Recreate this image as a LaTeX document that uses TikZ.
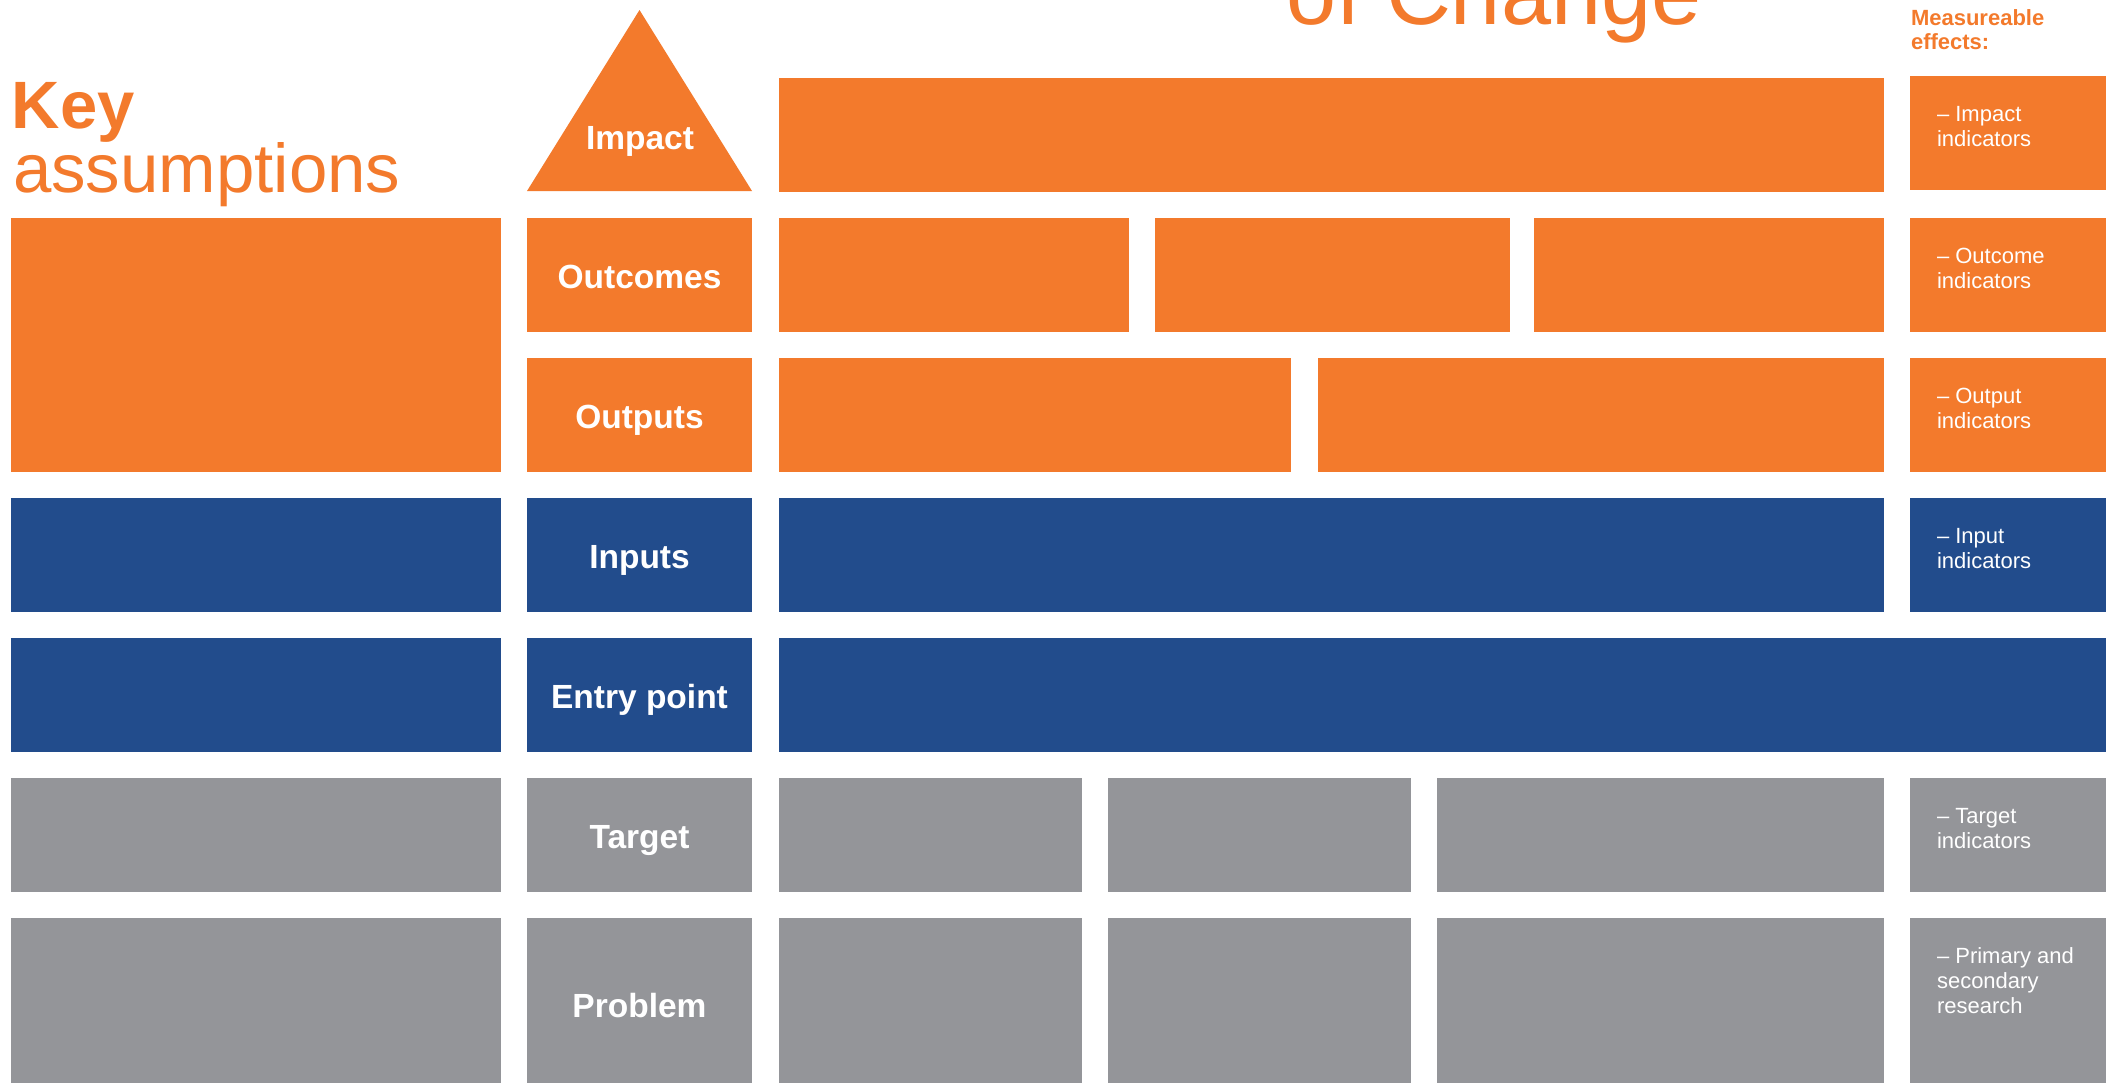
\documentclass[tikz,border=0pt]{standalone}
\usepackage{fontspec}
\setmainfont{Liberation Sans}
\usetikzlibrary{positioning}
\definecolor{tocorange}{HTML}{F37A2C}
\definecolor{tocblue}{HTML}{224C8C}
\definecolor{tocgray}{HTML}{949599}

\begin{document}
\begin{tikzpicture}[x=1pt,y=-1pt,node distance=26pt]
\tikzstyle{cell}=[rectangle,inner sep=0pt,outer sep=0pt,minimum height=114pt]
\tikzstyle{level}=[cell,minimum width=225pt,text=white,font=\fontsize{33.5}{40}\selectfont\bfseries,text height=27pt,text depth=0pt]
\tikzstyle{note}=[inner sep=0pt,outer sep=0pt,align=left,text=white,font=\fontsize{22}{25}\selectfont]
\tikzstyle{heading}=[inner sep=0pt,outer sep=0pt,text=tocorange]

\clip (0,0) rectangle (2114,1082);
\useasboundingbox (0,0) rectangle (2114,1082);

\node[heading,anchor=base west,font=\fontsize{90}{100}\selectfont] (title) at (1286,24) {of Change};
\node[heading,anchor=base west,font=\fontsize{67}{70}\selectfont\bfseries] (key) at (12,128) {Key};
\node[heading,anchor=base west,font=\fontsize{69}{72}\selectfont] (assum) at (13,192) {assumptions};
\node[heading,anchor=north west,align=left,font=\fontsize{22}{24}\selectfont\bfseries] (effects) at (1911,10) {Measureable\\effects:};

\fill[tocorange] (527,191) -- (639.5,10) -- (752,191) -- cycle;
\node[heading,text=white,anchor=base,font=\fontsize{33.5}{40}\selectfont\bfseries] (impact) at (640,149) {Impact};

\node[level,fill=tocorange,anchor=north west] (outc) at (527,218) {Outcomes};
\node[level,fill=tocorange,below=of outc] (outp) {Outputs};
\node[level,fill=tocblue,below=of outp] (inp) {Inputs};
\node[level,fill=tocblue,below=of inp] (entry) {Entry point};
\node[level,fill=tocgray,below=of entry] (targ) {Target};
\node[level,fill=tocgray,below=of targ,minimum height=172pt] (prob) {Problem};

\node[cell,fill=tocorange,minimum width=490pt,minimum height=254pt,left=of outc.north west,anchor=north east] (kaout) {};
\node[cell,fill=tocblue,minimum width=490pt,left=of inp] (kainp) {};
\node[cell,fill=tocblue,minimum width=490pt,left=of entry] (kaent) {};
\node[cell,fill=tocgray,minimum width=490pt,left=of targ] (katarg) {};
\node[cell,fill=tocgray,minimum width=490pt,minimum height=172pt,left=of prob] (kaprob) {};

\node[cell,fill=tocorange,minimum width=350pt,right=27pt of outc] (outc1) {};
\node[cell,fill=tocorange,minimum width=355pt,right=of outc1] (outc2) {};
\node[cell,fill=tocorange,minimum width=350pt,right=24pt of outc2] (outc3) {};
\node[cell,fill=tocorange,minimum width=1105pt,above=of outc1.north west,anchor=south west] (imp1) {};

\node[cell,fill=tocorange,minimum width=512pt,right=27pt of outp] (outp1) {};
\node[cell,fill=tocorange,minimum width=566pt,right=27pt of outp1] (outp2) {};

\node[cell,fill=tocblue,minimum width=1105pt,right=27pt of inp] (inp1) {};
\node[cell,fill=tocblue,minimum width=1327pt,right=27pt of entry] (entry1) {};

\node[cell,fill=tocgray,minimum width=303pt,right=27pt of targ] (targ1) {};
\node[cell,fill=tocgray,minimum width=303pt,right=of targ1] (targ2) {};
\node[cell,fill=tocgray,minimum width=447pt,right=of targ2] (targ3) {};

\node[cell,fill=tocgray,minimum width=303pt,minimum height=172pt,right=27pt of prob] (prob1) {};
\node[cell,fill=tocgray,minimum width=303pt,minimum height=172pt,right=of prob1] (prob2) {};
\node[cell,fill=tocgray,minimum width=447pt,minimum height=172pt,right=of prob2] (prob3) {};

\node[cell,fill=tocorange,minimum width=196pt,right=of imp1,yshift=2pt] (impind) {};
\node[cell,fill=tocorange,minimum width=196pt,right=of outc3] (outcind) {};
\node[cell,fill=tocorange,minimum width=196pt,right=of outp2] (outpind) {};
\node[cell,fill=tocblue,minimum width=196pt,right=of inp1] (inpind) {};
\node[cell,fill=tocgray,minimum width=196pt,right=of targ3] (targind) {};
\node[cell,fill=tocgray,minimum width=196pt,minimum height=172pt,right=of prob3] (probind) {};

\node[note,below right=30pt and 27pt of impind.north west] (impnote) {– Impact\\indicators};
\node[note,below right=30pt and 27pt of outcind.north west] (outcnote) {– Outcome\\indicators};
\node[note,below right=30pt and 27pt of outpind.north west] (outpnote) {– Output\\indicators};
\node[note,below right=30pt and 27pt of inpind.north west] (inpnote) {– Input\\indicators};
\node[note,below right=30pt and 27pt of targind.north west] (targnote) {– Target\\indicators};
\node[note,below right=30pt and 27pt of probind.north west] (probnote) {– Primary and\\secondary\\research};
\end{tikzpicture}
\end{document}
